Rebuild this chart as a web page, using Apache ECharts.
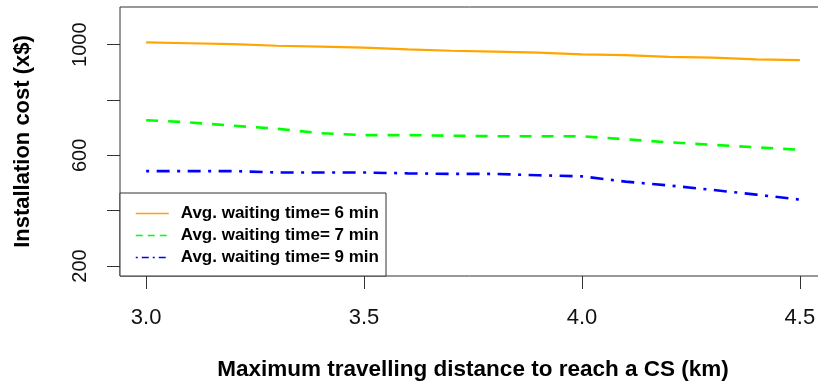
<!DOCTYPE html>
<html>
<head>
<meta charset="utf-8">
<script src="https://cdn.jsdelivr.net/npm/echarts@6/dist/echarts.min.js"></script>
<style>
  html, body { margin: 0; padding: 0; background: #ffffff; }
  #chart { width: 818px; height: 385px; }
</style>
</head>
<body>
<div id="chart"></div>
<script>
// Maximum travelling distance to reach a charging station (km)
const distances = [3.0, 3.1, 3.2, 3.3, 3.4, 3.5, 3.6, 3.7, 3.8, 3.9, 4.0, 4.1, 4.2, 4.3, 4.4, 4.5];

// Installation cost (x$) for each average waiting time
const cost6min = [1008, 1005, 1002, 996, 993, 989, 983, 978, 975, 971, 965, 962, 956, 953, 947, 944];
const cost7min = [727, 719, 707, 696, 680, 673, 673, 671, 669, 669, 669, 658, 647, 638, 629, 620];
const cost9min = [543, 543, 543, 538, 538, 538, 535, 533, 533, 528, 524, 505, 491, 475, 458, 440];

const seriesNames = ['Avg. waiting time= 6 min', 'Avg. waiting time= 7 min', 'Avg. waiting time= 9 min'];

// Axis ticks and labels
const xTicks = [3.0, 3.5, 4.0, 4.5];
const yTicks = [200, 400, 600, 800, 1000];
const yTickLabels = [200, 600, 1000];

const FONT = '"Liberation Sans", Arial, sans-serif';

const pairs = (ys) => distances.map((x, i) => [x, ys[i]]);

const chart = echarts.init(document.getElementById('chart'), null, { renderer: 'canvas' });

chart.setOption({
  animation: false,
  backgroundColor: '#ffffff',
  grid: {
    left: 120,
    top: 7,
    width: 706,
    height: 269,
    containLabel: false,
    outerBoundsMode: 'none',
    show: true,
    borderColor: '#333333',
    borderWidth: 1,
    backgroundColor: 'transparent'
  },
  xAxis: {
    type: 'value',
    min: 2.94,
    max: 4.56,
    axisLine: { show: false },
    splitLine: { show: false },
    axisTick: {
      show: true,
      inside: false,
      length: 13,
      customValues: xTicks,
      lineStyle: { color: '#333333', width: 1 }
    },
    axisLabel: {
      customValues: xTicks,
      formatter: (v) => Number(v).toFixed(1),
      fontSize: 22,
      fontFamily: FONT,
      color: '#111111',
      margin: 31
    },
    name: 'Maximum travelling distance to reach a CS (km)',
    nameLocation: 'middle',
    nameGap: 82,
    nameTextStyle: { fontSize: 22.5, fontWeight: 'bold', fontFamily: FONT, color: '#000000' }
  },
  yAxis: {
    type: 'value',
    min: 164,
    max: 1136,
    axisLine: { show: false },
    splitLine: { show: false },
    axisTick: {
      show: true,
      inside: false,
      length: 13,
      customValues: yTicks,
      lineStyle: { color: '#333333', width: 1 }
    },
    axisLabel: {
      customValues: yTickLabels,
      formatter: (v) => String(v),
      rotate: 90,
      fontSize: 20,
      fontFamily: FONT,
      color: '#111111',
      margin: 30
    },
    name: 'Installation cost (x$)',
    nameLocation: 'middle',
    nameGap: 86,
    nameRotate: 90,
    nameTextStyle: { fontSize: 22, fontWeight: 'bold', fontFamily: FONT, color: '#000000' }
  },
  graphic: [{
    type: 'rect',
    z: 3,
    shape: { x: 120, y: 193, width: 266, height: 83 },
    style: { fill: '#ffffff', stroke: '#333333', lineWidth: 1 }
  }],
  legend: {
    orient: 'vertical',
    left: 135,
    top: 205,
    padding: 0,
    itemGap: 5,
    itemWidth: 33,
    itemHeight: 14,
    z: 5,
    itemStyle: { color: 'rgba(0,0,0,0)', borderWidth: 0, opacity: 0 },
    textStyle: { fontSize: 17, fontWeight: 'bold', fontFamily: FONT, color: '#000000', lineHeight: 16, padding: [0, 0, 0, 7] },
    data: [
      { name: seriesNames[0], lineStyle: { color: '#FFA500', width: 1.5, type: 'solid' } },
      { name: seriesNames[1], lineStyle: { color: '#00FF00', width: 1.5, type: [7, 5] } },
      { name: seriesNames[2], lineStyle: { color: '#0000FF', width: 1.5, type: [2, 4, 7, 4] } }
    ]
  },
  series: [
    {
      name: seriesNames[0],
      type: 'line',
      data: pairs(cost6min),
      symbol: 'none',
      lineStyle: { color: '#FFA500', width: 2.2, type: 'solid' },
      itemStyle: { color: '#FFA500' }
    },
    {
      name: seriesNames[1],
      type: 'line',
      data: pairs(cost7min),
      symbol: 'none',
      lineStyle: { color: '#00FF00', width: 2.6, type: [12, 10] },
      itemStyle: { color: '#00FF00' }
    },
    {
      name: seriesNames[2],
      type: 'line',
      data: pairs(cost9min),
      symbol: 'none',
      lineStyle: { color: '#0000FF', width: 2.6, type: [3, 7.5, 13, 7.5] },
      itemStyle: { color: '#0000FF' }
    }
  ]
});
</script>
</body>
</html>
